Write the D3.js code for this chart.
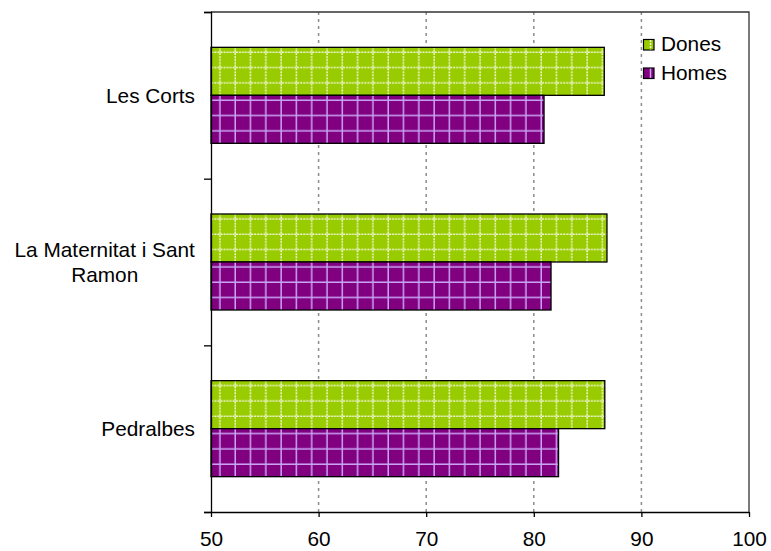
<!DOCTYPE html>
<html>
<head>
<meta charset="utf-8">
<script src="https://cdn.jsdelivr.net/npm/d3@7"></script>
<style>
  html, body { margin: 0; padding: 0; background: #fff; }
  svg { display: block; font-family: "Liberation Sans", Arial, sans-serif; }
</style>
</head>
<body>
<svg id="chart" width="771" height="551"></svg>
<script>
// Districts (top to bottom) and life expectancy values by sex
const categories = [["Les Corts"], ["La Maternitat i Sant", "Ramon"], ["Pedralbes"]];
const seriesNames = ["Dones", "Homes"];
const dones = [86.55, 86.8, 86.6];
const homes = [80.95, 81.6, 82.3];
const xTicks = [50, 60, 70, 80, 90, 100];

const svg = d3.select("#chart");
const plotLeft = 211, plotRight = 749, plotTop = 12, plotBottom = 512;
const fontSize = 20.8;

const x = d3.scaleLinear().domain([50, 100]).range([plotLeft, plotRight]);
const y = d3.scaleBand().domain(d3.range(categories.length)).range([plotTop, plotBottom])
  .paddingInner(0.424).paddingOuter(0.212);
const ySub = d3.scaleBand().domain(seriesNames).range([0, y.bandwidth()]);

const styles = {
  Dones: { fill: "#99cc00", line: "#f2f7d9", dash: "2,1" },
  Homes: { fill: "#800080", line: "#caa4f2", dash: null }
};
const cell = 15.3;

// one pattern per bar so the grid starts at each bar's top edge
const bars = [];
categories.forEach((c, i) => {
  bars.push({ i, s: "Dones", v: dones[i] });
  bars.push({ i, s: "Homes", v: homes[i] });
});

const defs = svg.append("defs");
bars.forEach((b, k) => {
  const st = styles[b.s];
  const yTop = y(b.i) + ySub(b.s);
  const p = defs.append("pattern")
    .attr("id", "pat" + k)
    .attr("patternUnits", "userSpaceOnUse")
    .attr("x", x(50) + 9.7 - cell)
    .attr("y", yTop + 5.7 - cell)
    .attr("width", cell).attr("height", cell);
  p.append("rect").attr("width", cell).attr("height", cell).attr("fill", st.fill);
  p.append("line").attr("x1", 0).attr("x2", cell).attr("y1", cell - 0.75).attr("y2", cell - 0.75)
    .attr("stroke", st.line).attr("stroke-width", 1.5).attr("stroke-dasharray", st.dash);
  p.append("line").attr("y1", 0).attr("y2", cell).attr("x1", cell - 0.75).attr("x2", cell - 0.75)
    .attr("stroke", st.line).attr("stroke-width", 1.5).attr("stroke-dasharray", st.dash);
  b.pat = "url(#pat" + k + ")";
});

// vertical dashed gridlines
svg.append("g").selectAll("line")
  .data(xTicks.filter(t => t > 50 && t < 100))
  .join("line")
  .attr("x1", d => x(d)).attr("x2", d => x(d))
  .attr("y1", plotTop).attr("y2", plotBottom)
  .attr("stroke", "#8c8c8c").attr("stroke-width", 1.5).attr("stroke-dasharray", "3,4");

// bars
svg.append("g").selectAll("rect")
  .data(bars)
  .join("rect")
  .attr("x", x(50))
  .attr("y", d => y(d.i) + ySub(d.s))
  .attr("width", d => x(d.v) - x(50))
  .attr("height", ySub.bandwidth())
  .attr("fill", d => d.pat)
  .attr("stroke", "#000").attr("stroke-width", 1.3);

// frame: top and right borders
svg.append("path")
  .attr("d", `M${plotLeft},${plotTop}H${plotRight}V${plotBottom}`)
  .attr("fill", "none").attr("stroke", "#333").attr("stroke-width", 1.3);

// x axis
const xAxis = d3.axisBottom(x).tickValues(xTicks).tickSize(5).tickSizeOuter(0).tickPadding(14);
const gx = svg.append("g").attr("transform", `translate(0,${plotBottom})`).call(xAxis);
gx.select(".domain").attr("stroke", "#000").attr("stroke-width", 1.3);
gx.selectAll(".tick line").attr("stroke", "#000").attr("stroke-width", 1.3);
gx.selectAll("text").attr("font-size", fontSize).attr("fill", "#000")
  .attr("font-family", "Liberation Sans, Arial, sans-serif");

// y axis: line with ticks at category boundaries
const yEdge = d3.scaleLinear().domain([0, categories.length]).range([plotTop, plotBottom]);
const gy = svg.append("g").attr("transform", `translate(${plotLeft},0)`)
  .call(d3.axisLeft(yEdge).tickValues(d3.range(categories.length + 1)).tickSize(7).tickFormat(""));
gy.select(".domain").attr("stroke", "#000").attr("stroke-width", 1.3);
gy.selectAll(".tick line").attr("stroke", "#000").attr("stroke-width", 1.3);

// category labels
const lineH = 25.6;
svg.append("g").selectAll("text")
  .data(categories)
  .join("text")
  .attr("text-anchor", "middle")
  .attr("font-size", fontSize)
  .attr("fill", "#000")
  .each(function(lines, i) {
    const cy = y(i) + y.bandwidth() / 2;
    const t = d3.select(this);
    const first = cy + 7.5 - (lines.length - 1) * lineH / 2;
    lines.forEach((ln, j) => {
      t.append("tspan").attr("x", 0).attr("y", first + j * lineH).text(ln);
    });
  })
  .each(function() {
    // right-align the block against the axis, centering each line within it
    const bb = this.getBBox();
    const cx = 195 - bb.width / 2;
    d3.select(this).selectAll("tspan").attr("x", cx);
  });

// legend
const lg = svg.append("g");
const legendY = [39.5, 68];
seriesNames.forEach((s, k) => {
  const st = styles[s];
  const g = lg.append("g").attr("transform", `translate(643.5,${legendY[k]})`);
  g.append("rect").attr("width", 10.5).attr("height", 10.5).attr("fill", st.fill)
    .attr("stroke", "#000").attr("stroke-width", 1.2);
  g.append("line").attr("x1", 7).attr("x2", 7).attr("y1", 0.6).attr("y2", 9.9)
    .attr("stroke", st.line).attr("stroke-width", 1.5).attr("stroke-dasharray", st.dash);
  g.append("text").attr("x", 17.5).attr("y", 11.8).attr("font-size", fontSize).attr("fill", "#000").text(s);
});
</script>
</body>
</html>
